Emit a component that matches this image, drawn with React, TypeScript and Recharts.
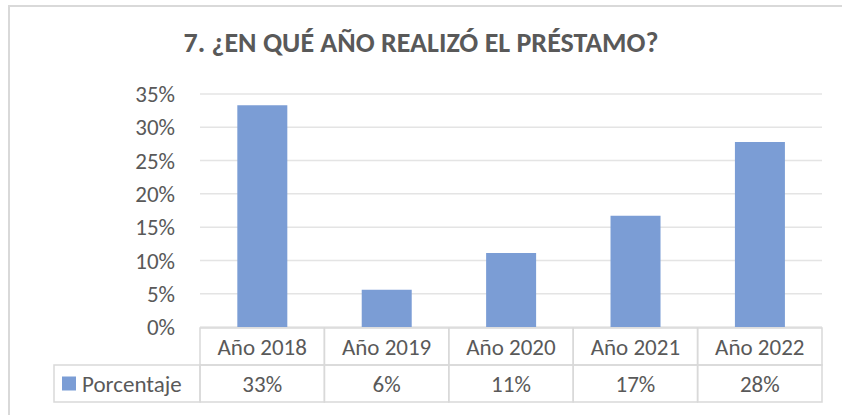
import React from "react";
import { BarChart, Bar, XAxis, YAxis, CartesianGrid } from "recharts";

const title = "7. ¿EN QUÉ AÑO REALIZÓ EL PRÉSTAMO?";
const seriesName = "Porcentaje";
const categories = ["Año 2018", "Año 2019", "Año 2020", "Año 2021", "Año 2022"];
const percentages = [33.3, 5.6, 11.1, 16.7, 27.8];
const yTicks = [0, 5, 10, 15, 20, 25, 30, 35];

const W = 842;
const H = 415;
const MARGIN = { top: 94, right: 20, bottom: 0, left: 0 };
const Y_AXIS_W = 200;
const X_AXIS_H = 88;
const PLOT_W = W - MARGIN.left - MARGIN.right - Y_AXIS_W;

const FONT = "Carlito, Calibri, Lato, sans-serif";
const TEXT = "#595959";
const BORDER = "#d9d9d9";
const BAR = "#7b9dd5";
const ROW_H = 37;
const LEGEND_LEFT = 54;
const FS = 23;

const data = categories.map((name, i) => ({ name, value: percentages[i] }));

function TableTick(props: any) {
  const { x, y, payload, index } = props;
  const band = PLOT_W / categories.length;
  const left = x - band / 2;
  const top = y + 1;
  const val = percentages[index];
  return (
    <g>
      <rect x={left} y={top} width={band} height={ROW_H} fill="none" stroke={BORDER} strokeWidth={1.5} />
      <rect x={left} y={top + ROW_H} width={band} height={ROW_H} fill="none" stroke={BORDER} strokeWidth={1.5} />
      <text x={x} y={top + ROW_H / 2} dy="0.35em" textAnchor="middle" fill={TEXT} fontSize={FS} fontFamily={FONT}>
        {payload.value}
      </text>
      <text x={x} y={top + ROW_H * 1.5} dy="0.35em" textAnchor="middle" fill={TEXT} fontSize={FS} fontFamily={FONT}>
        {Math.round(val)}%
      </text>
      {index === 0 && (
        <g>
          <rect x={LEGEND_LEFT} y={top + ROW_H} width={left - LEGEND_LEFT} height={ROW_H} fill="none" stroke={BORDER} strokeWidth={1.5} />
          <rect x={LEGEND_LEFT + 8} y={top + ROW_H * 1.5 - 7} width={14} height={14} fill={BAR} />
          <text x={LEGEND_LEFT + 28} y={top + ROW_H * 1.5} dy="0.35em" fill={TEXT} fontSize={FS} fontFamily={FONT}>
            {seriesName}
          </text>
        </g>
      )}
    </g>
  );
}

export default function App() {
  return (
    <div style={{ position: "absolute", left: 0, top: 0, width: W, height: H, background: "#fff", overflow: "hidden" }}>
      <div
        style={{
          position: "absolute",
          left: 8,
          top: 5,
          width: W,
          height: H,
          borderLeft: `2px solid ${BORDER}`,
          borderTop: `2px solid ${BORDER}`,
        }}
      />
      <div
        style={{
          position: "absolute",
          left: 0,
          top: 26,
          width: W,
          textAlign: "center",
          fontFamily: FONT,
          fontWeight: 700,
          fontSize: 28,
          color: TEXT,
          lineHeight: "34px",
        }}
      >
        {title}
      </div>
      <div style={{ position: "absolute", left: 0, top: 0 }}>
        <BarChart width={W} height={H} data={data} margin={MARGIN} barCategoryGap="30%">
          <CartesianGrid vertical={false} stroke="#e4e4e4" strokeWidth={1.5} />
          <YAxis
            width={Y_AXIS_W}
            domain={[0, 35]}
            ticks={yTicks}
            interval={0}
            tickFormatter={(v: number) => `${v}%`}
            axisLine={false}
            tickLine={false}
            tickSize={0}
            tickMargin={25}
            tick={{ fill: TEXT, fontSize: FS, fontFamily: FONT }}
          />
          <XAxis
            dataKey="name"
            height={X_AXIS_H}
            interval={0}
            axisLine={false}
            tickLine={false}
            tickSize={0}
            tickMargin={0}
            tick={<TableTick />}
          />
          <Bar dataKey="value" fill={BAR} isAnimationActive={false} />
        </BarChart>
      </div>
    </div>
  );
}
